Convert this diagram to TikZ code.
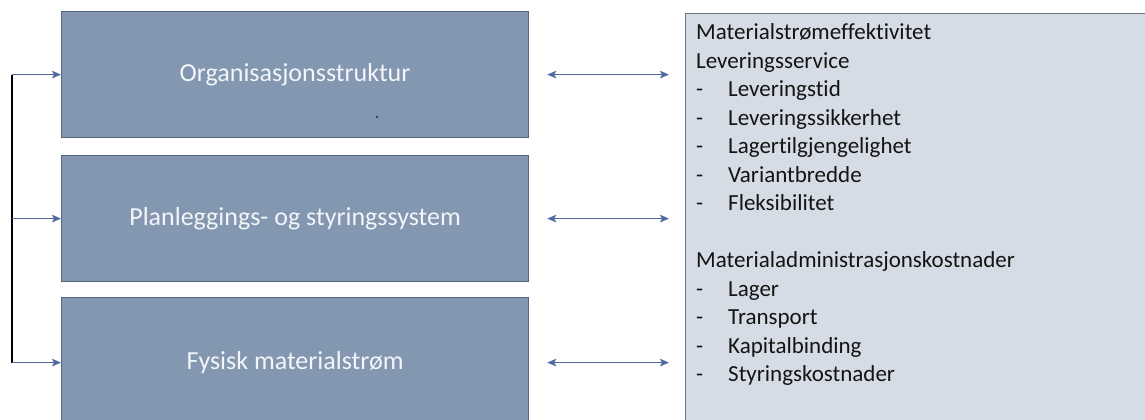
\documentclass[tikz,border=0pt]{standalone}
\usepackage{fontspec}
\setmainfont[Ligatures={NoCommon}]{Carlito}
\usetikzlibrary{arrows.meta}
\definecolor{boxfill}{RGB}{132,151,176}
\definecolor{boxline}{RGB}{84,102,130}
\definecolor{panelfill}{RGB}{214,220,229}
\definecolor{panelline}{RGB}{110,118,130}
\definecolor{arrowcol}{RGB}{80,106,158}
\definecolor{lighttext}{RGB}{242,245,249}
\definecolor{darktext}{RGB}{20,20,20}
\definecolor{dotcol}{RGB}{40,60,150}
\newcommand\dashitem{\makebox[32pt][l]{-}}
\begin{document}
\begin{tikzpicture}[x=1pt,y=-1pt,
  leftbox/.style={draw=boxline, line width=1.2pt, fill=boxfill, minimum width=467pt,
    minimum height=126pt, anchor=north west, inner sep=0pt, text=lighttext,
    font=\fontsize{26}{30}\selectfont},
  panel/.style={draw=panelline, line width=1.2pt, fill=panelfill, minimum width=480pt,
    minimum height=440pt, anchor=north west, inner sep=0pt},
  conn/.style={draw=arrowcol, line width=1.7pt, -{Stealth[length=9pt,width=7.5pt,inset=2pt]}},
  biconn/.style={draw=arrowcol, line width=1.7pt,
    {Stealth[length=9pt,width=7.5pt,inset=2pt]}-{Stealth[length=9pt,width=7.5pt,inset=2pt]}}]
\useasboundingbox (0,0) rectangle (1145,420);
\clip (0,0) rectangle (1145,420);
\fill[white] (0,0) rectangle (1145,420);
\node (b1) [leftbox] at (61,11) {Organisasjonsstruktur};
\node (b2) [leftbox] at (61,155) {Planleggings- og styringssystem};
\node (b3) [leftbox, minimum height=130pt] at (61,297) {\raisebox{2pt}{Fysisk materialstrøm}};
\node (panel) [panel] at (685,13) {};
\node (ptext) [anchor=base west, inner sep=0pt, text=darktext] at (696,39.5)
  {\parbox[t]{440pt}{\fontsize{23}{28.5}\selectfont
   Materialstrømeffektivitet\\
   Leveringsservice\\
   \dashitem Leveringstid\\
   \dashitem Leveringssikkerhet\\
   \dashitem Lagertilgjengelighet\\
   \dashitem Variantbredde\\
   \dashitem Fleksibilitet\\
   \mbox{}\\
   Materialadministrasjonskostnader\\
   \dashitem Lager\\
   \dashitem Transport\\
   \dashitem Kapitalbinding\\
   \dashitem Styringskostnader}};
\node (dot) [circle, fill=dotcol, inner sep=0pt, minimum size=2.6pt] at (377,117) {};
\coordinate (bracketx) at (12,0);
\draw[black, line width=1.4pt] (b1.west -| bracketx) -- (b3.west -| bracketx);
\draw[conn] (b1.west -| bracketx) -- (b1.west);
\draw[conn] (b2.west -| bracketx) -- (b2.west);
\draw[conn] (b3.west -| bracketx) -- (b3.west);
\draw[biconn, shorten <=18pt, shorten >=16pt] (b1.east) -- (b1.east -| panel.west);
\draw[biconn, shorten <=18pt, shorten >=16pt] (b2.east) -- (b2.east -| panel.west);
\draw[biconn, shorten <=18pt, shorten >=16pt] (b3.east) -- (b3.east -| panel.west);
\end{tikzpicture}
\end{document}
